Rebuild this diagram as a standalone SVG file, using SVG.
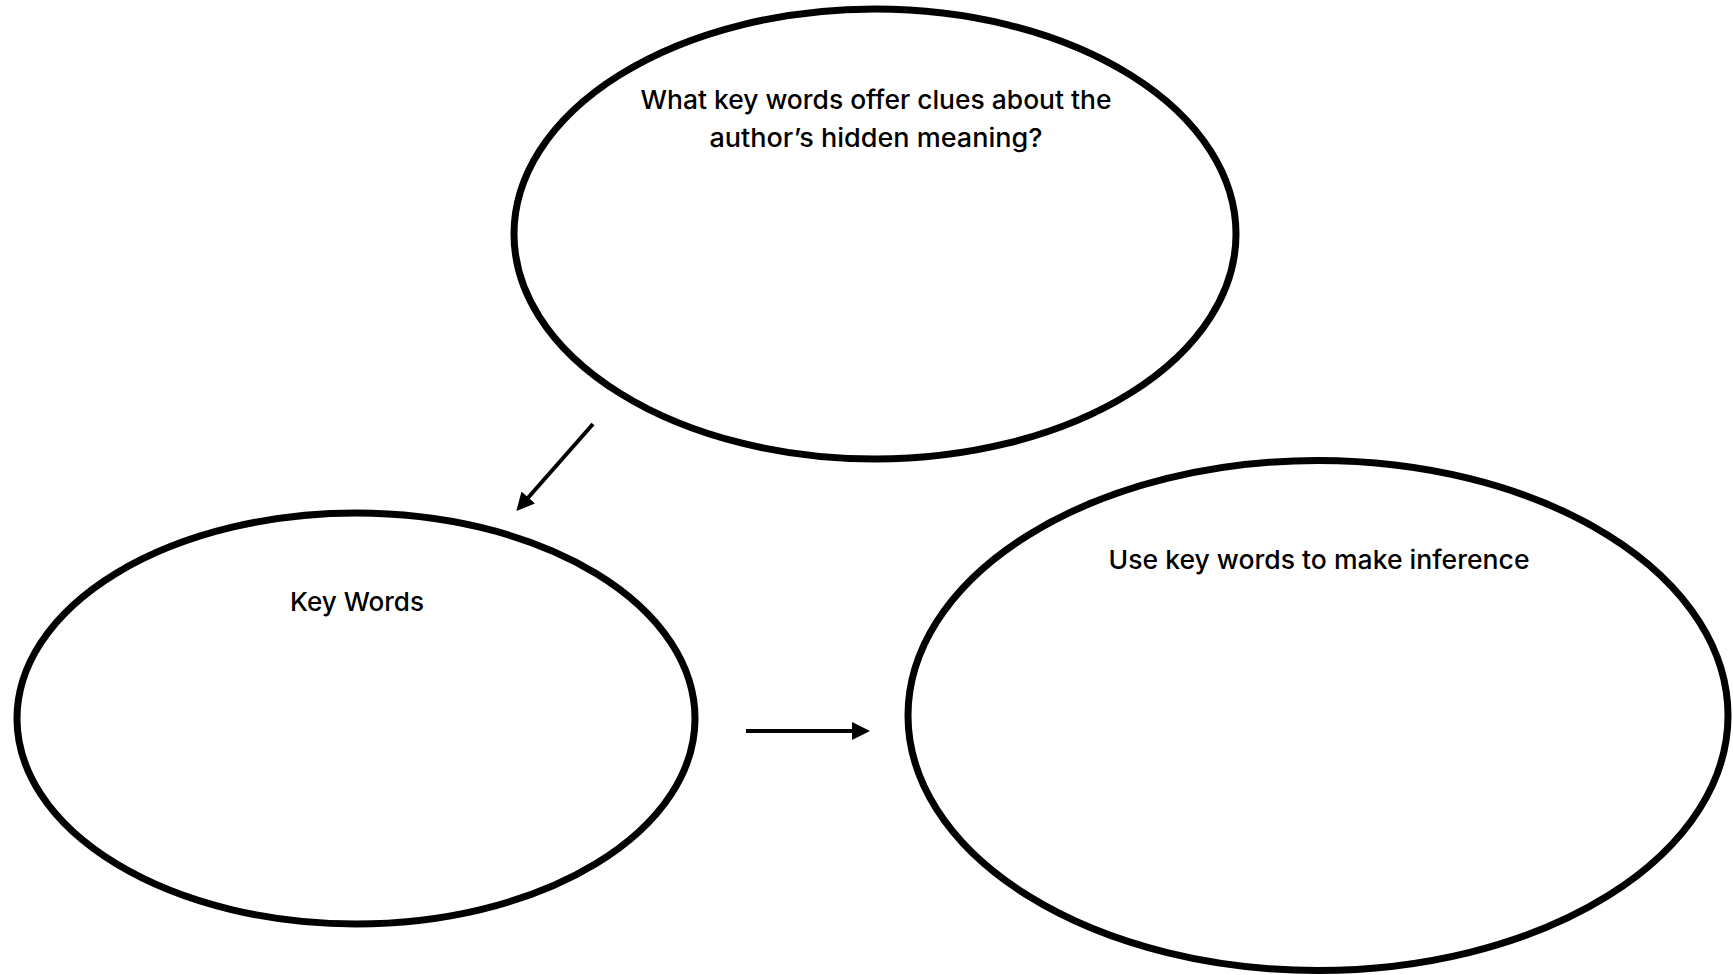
<svg xmlns="http://www.w3.org/2000/svg" width="1733" height="975" viewBox="0 0 1733 975">
<style>
.node{fill:#fff;stroke:#000;stroke-width:7}
.lbl{font-family:Inter,"Liberation Sans",Arial,sans-serif;font-size:26px;font-weight:550;fill:#000;text-anchor:middle}
.conn{stroke:#000;stroke-width:4;fill:none;marker-end:url(#ah)}
</style>
<defs>
<marker id="ah" markerWidth="4.5" markerHeight="4.5" refX="3.5" refY="2.25" orient="auto" markerUnits="strokeWidth">
<path d="M0,0 L4.5,2.25 L0,4.5 Z" fill="#000"/>
</marker>
</defs>
<rect width="1733" height="975" fill="#fff"/>
<g id="node-question">
<ellipse class="node" cx="875" cy="234" rx="361" ry="225"/>
<text class="lbl" x="876" y="109" textLength="471" lengthAdjust="spacingAndGlyphs">What key words offer clues about the</text>
<text class="lbl" x="876" y="147" textLength="333" lengthAdjust="spacingAndGlyphs">author’s hidden meaning?</text>
</g>
<g id="node-keywords">
<ellipse class="node" cx="356" cy="718.5" rx="339" ry="205.5"/>
<text class="lbl" x="357" y="611" textLength="134" lengthAdjust="spacingAndGlyphs">Key Words</text>
</g>
<g id="node-inference">
<ellipse class="node" cx="1318" cy="715.5" rx="410" ry="255"/>
<text class="lbl" x="1319" y="569" textLength="421" lengthAdjust="spacingAndGlyphs">Use key words to make inference</text>
</g>
<g id="connectors">
<line class="conn" x1="593" y1="424" x2="519" y2="508"/>
<line class="conn" x1="746" y1="731" x2="866" y2="731"/>
</g>
</svg>
